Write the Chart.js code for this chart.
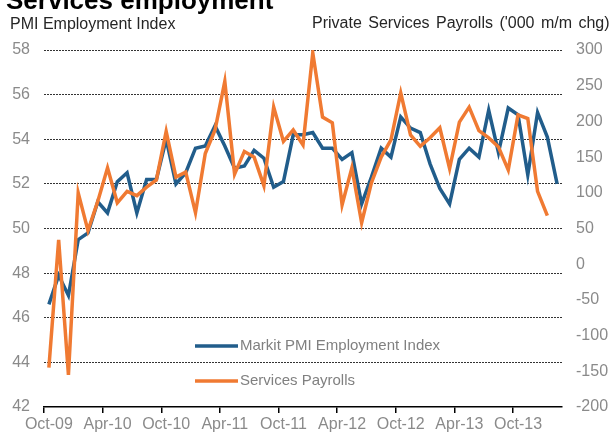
<!DOCTYPE html>
<html>
<head>
<meta charset="utf-8">
<script src="https://cdn.jsdelivr.net/npm/chart.js@4/dist/chart.umd.min.js"></script>
<style>
  html, body { margin: 0; padding: 0; background: #fff; }
  #wrap { position: relative; width: 612px; height: 432px; overflow: hidden; font-family: "Liberation Sans", Arial, sans-serif; }
  #wrap canvas { position: absolute; left: 0; top: 0; }
  .txt { position: absolute; white-space: nowrap; }
  #mainTitle { left: 6px; top: -13px; font-size: 26px; line-height: 26px; font-weight: bold; color: #000; }
  #leftTitle { left: 10px; top: 16px; font-size: 16px; line-height: 16px; color: #262626; }
  #rightTitle { left: 312px; top: 15px; font-size: 16px; line-height: 16px; color: #262626; word-spacing: 2px; }
</style>
</head>
<body>
<div id="wrap">
  <canvas id="servicesChart" width="612" height="432"></canvas>
  <div class="txt" id="mainTitle">Services employment</div>
  <div class="txt" id="leftTitle">PMI Employment Index</div>
  <div class="txt" id="rightTitle">Private Services Payrolls ('000 m/m chg)</div>
</div>
<script>
// Mois, d'oct. 2009 à fév. 2014
const months = [
  "Oct-09", "Nov-09", "Dec-09",
  "Jan-10", "Feb-10", "Mar-10", "Apr-10", "May-10", "Jun-10", "Jul-10", "Aug-10", "Sep-10", "Oct-10", "Nov-10", "Dec-10",
  "Jan-11", "Feb-11", "Mar-11", "Apr-11", "May-11", "Jun-11", "Jul-11", "Aug-11", "Sep-11", "Oct-11", "Nov-11", "Dec-11",
  "Jan-12", "Feb-12", "Mar-12", "Apr-12", "May-12", "Jun-12", "Jul-12", "Aug-12", "Sep-12", "Oct-12", "Nov-12", "Dec-12",
  "Jan-13", "Feb-13", "Mar-13", "Apr-13", "May-13", "Jun-13", "Jul-13", "Aug-13", "Sep-13", "Oct-13", "Nov-13", "Dec-13",
  "Jan-14", "Feb-14"
];

// Markit PMI Employment Index (axe gauche)
const pmiEmployment = [
  46.6, 47.9, 47.0, 49.5, 49.8, 51.2, 50.7, 52.1, 52.5, 50.7,
  52.2, 52.2, 54.0, 52.0, 52.5, 53.6, 53.7, 54.6, 53.7, 52.7,
  52.8, 53.5, 53.15, 51.85, 52.1, 54.2, 54.2, 54.3, 53.6, 53.6,
  53.1, 53.4, 51.1, 52.3, 53.6, 53.2, 55.0, 54.5, 54.3, 52.9,
  51.8, 51.1, 53.1, 53.6, 53.2, 55.3, 53.4, 55.4, 55.1, 52.4,
  55.2, 54.1, 52.0
];

// Services Payrolls, '000 m/m (axe droit)
const servicesPayrolls = [
  -145, 34, -155, 100, 47, 88, 135, 86, 102, 96,
  108, 118, 186, 122, 129, 72, 155, 188, 256, 126,
  158, 150, 110, 220, 172, 188, 167, 296, 206, 198,
  83, 135, 58, 114, 150, 174, 240, 181, 165, 177,
  191, 134, 199, 220, 187, 177, 164, 132, 209, 204,
  102, 68
];

// Étiquettes de l'axe X : une tous les 6 mois
const shownMonths = ["Oct-09", "Apr-10", "Oct-10", "Apr-11", "Oct-11", "Apr-12", "Oct-12", "Apr-13", "Oct-13"];

const pmiColor = "#215d8b";
const payrollColor = "#f07a32";
const tickColor = "#8a8a8a";
const fontFamily = "'Liberation Sans', Arial, sans-serif";

// Légende dessinée dans la zone du graphique
const insideLegend = {
  id: "insideLegend",
  afterDraw(chart) {
    const ctx = chart.ctx;
    const items = [
      { text: "Markit PMI Employment Index", color: pmiColor, y: 346 },
      { text: "Services Payrolls", color: payrollColor, y: 381 }
    ];
    ctx.save();
    ctx.font = "15px " + fontFamily;
    ctx.textBaseline = "middle";
    ctx.textAlign = "left";
    items.forEach((item) => {
      ctx.strokeStyle = item.color;
      ctx.lineWidth = 3.5;
      ctx.beginPath();
      ctx.moveTo(195, item.y);
      ctx.lineTo(238, item.y);
      ctx.stroke();
      ctx.fillStyle = "#808080";
      ctx.fillText(item.text, 240, item.y);
    });
    ctx.restore();
  }
};

const ctx = document.getElementById("servicesChart").getContext("2d");

const chart = new Chart(ctx, {
  type: "line",
  data: {
    labels: months,
    datasets: [
      {
        label: "Markit PMI Employment Index",
        data: pmiEmployment,
        yAxisID: "yPmi",
        borderColor: pmiColor,
        backgroundColor: pmiColor,
        borderWidth: 3.5,
        pointRadius: 0,
        tension: 0,
        order: 1
      },
      {
        label: "Services Payrolls",
        data: servicesPayrolls,
        yAxisID: "yPayrolls",
        borderColor: payrollColor,
        backgroundColor: payrollColor,
        borderWidth: 3.5,
        pointRadius: 0,
        tension: 0,
        order: 0
      }
    ]
  },
  options: {
    responsive: false,
    animation: false,
    layout: { padding: { top: 50, left: 0, right: 0, bottom: 0 } },
    plugins: {
      legend: { display: false },
      tooltip: { enabled: false }
    },
    scales: {
      x: {
        offset: true,
        grid: {
          offset: true,
          drawOnChartArea: false,
          drawTicks: true,
          tickLength: 6,
          lineWidth: 1.5,
          color: (c) => (c.index % 6 === 0 && c.index < months.length ? "#000" : "rgba(0,0,0,0)")
        },
        border: { display: true, color: "#000", width: 1.5 },
        ticks: {
          autoSkip: false,
          maxRotation: 0,
          padding: 2,
          color: tickColor,
          font: { family: fontFamily, size: 16 },
          callback: function (value, index) {
            const label = months[index];
            return shownMonths.includes(label) ? label : "";
          }
        },
        afterFit: (scale) => { scale.height = 25; }
      },
      yPmi: {
        position: "left",
        min: 42,
        max: 58,
        ticks: {
          stepSize: 2,
          padding: 14,
          color: tickColor,
          font: { family: fontFamily, size: 16 }
        },
        grid: {
          drawTicks: false,
          lineWidth: 1,
          color: (c) => (c.index === 0 ? "rgba(0,0,0,0)" : "#333")
        },
        border: { display: false, dash: [2, 1] },
        afterFit: (scale) => { scale.width = 44; }
      },
      yPayrolls: {
        position: "right",
        min: -200,
        max: 300,
        ticks: {
          stepSize: 50,
          padding: 14,
          color: tickColor,
          font: { family: fontFamily, size: 16 }
        },
        grid: { drawOnChartArea: false, drawTicks: false },
        border: { display: false },
        afterFit: (scale) => { scale.width = 50; }
      }
    }
  },
  plugins: [insideLegend]
});
</script>
</body>
</html>
